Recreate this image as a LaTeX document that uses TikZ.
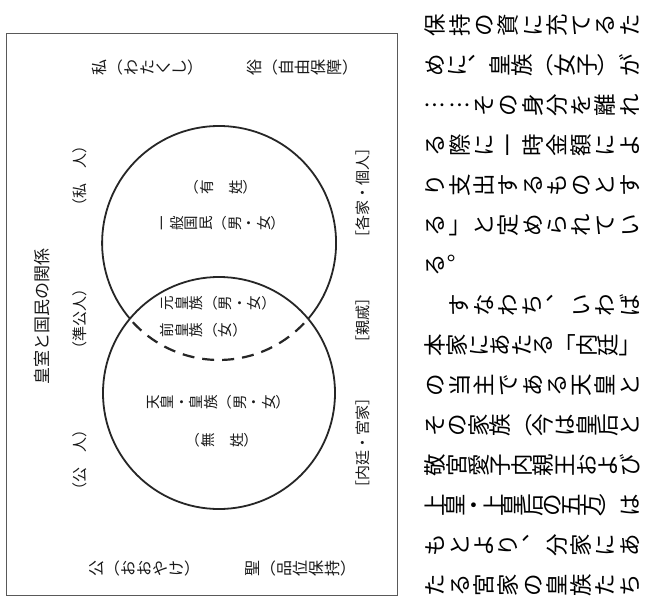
\documentclass[tikz,border=0pt]{standalone}
\usepackage{fontspec}
\setmainfont{Noto Sans CJK JP}
\makeatletter
\newif\iftt@first
\newcommand\tatestack[2][]{%
  \vbox #1{\offinterlineskip\tt@firsttrue
    \@tfor\tt@c:=#2\do{%
      \iftt@first\tt@firstfalse\else\vss\fi
      \hbox to 1em{\vrule height .88em depth .12em width 0pt\hss\smash{\tt@c}\hss}}%
    \kern0pt}}
\makeatother
\newcommand\fsz[1]{\fontsize{#1}{#1}\selectfont}
\tikzset{
  lbl/.style={inner sep=0pt, outer sep=0pt, text=black!90, rotate=90},
  dlab/.style={lbl, font=\fsz{14.5}},
  hlab/.style={lbl, font=\fsz{15}},
  elab/.style={lbl, font=\fsz{16}},
  body/.style={lbl, font=\fsz{22.5}, anchor=north, text=black},
  ring/.style={line width=1.8pt, black!85},
  dashring/.style={line width=2.2pt, black!85, dash pattern=on 12pt off 8pt, dash phase=14pt},
  frame/.style={line width=0.8pt, black!65}
}
\begin{document}
\begin{tikzpicture}[x=1pt,y=-1pt]
\useasboundingbox (0,0) rectangle (645,597);
\fill[white] (0,0) rectangle (645,597);
% frame
\draw[frame] (6,33) rectangle (397,595);
% circles
\coordinate (cu) at (219,243);
\coordinate (cl) at (219,393);
\coordinate (il) at (130,318.8);
\coordinate (ir) at (308,318.8);
\draw[ring] (cl) circle[radius=116];
\draw[ring] (il) arc[start angle=139.6, end angle=400.4, radius=117];
\draw[dashring] (ir) arc[start angle=40.4, end angle=139.6, radius=117];
% diagram labels
\node[lbl, font=\fsz{17}] (title) at (42,316) {皇室と国民の関係};
\node[hlab] (shijin) at (80,176) {（私　人）};
\node[hlab] (junko) at (80,319) {（準公人）};
\node[hlab] (kojin) at (80,460) {（公　人）};
\node[hlab] (kakuke) at (363,193) {［各家・個人］};
\node[hlab] (shinseki) at (363,320) {［親戚］};
\node[hlab] (naitei) at (363,443) {［内廷・宮家］};
\node[elab] (wata) at (147,67) {\tatestack{私︵わたくし︶}};
\node[elab] (zoku) at (302,67) {\tatestack{俗︵自由保障︶}};
\node[elab] (oya) at (144,568) {\tatestack{公︵おおやけ︶}};
\node[elab] (sei) at (300,568) {\tatestack{聖︵品位保持︶}};
\node[dlab] (yusei) at (221,187) {\tatestack{︵有　姓︶}};
\node[dlab] (ippan) at (220,223) {\tatestack{一般国民︵男・女︶}};
\node[dlab, anchor=north] (moto) at (160,303) {\tatestack{元皇族︵男・女︶}};
\node[dlab, anchor=north] (zen) at (160,330) {\tatestack{前皇族︵女︶}};
\node[dlab] (tenno) at (218,402) {\tatestack{天皇・皇族︵男・女︶}};
\node[dlab] (musei) at (222,440) {\tatestack{︵無　姓︶}};
% body text
\node[body] (r0) at (424,25) {\tatestack[to 217pt]{保持の資に充てるた}};
\node[body] (r1) at (424,65) {\tatestack[to 217pt]{めに︑皇族︵女子︶が}};
\node[body] (r2) at (424,105) {\tatestack[to 217pt]{︙︙その身分を離れ}};
\node[body] (r3) at (424,145) {\tatestack[to 217pt]{る際に一時金額によ}};
\node[body] (r4) at (424,185) {\tatestack[to 217pt]{り支出するものとす}};
\node[body] (r5) at (424,225) {\tatestack[to 217pt]{る﹂と定められてい}};
\node[body] (r6) at (424,265) {\tatestack{る︒}};
\node[body] (r7) at (448,305) {\tatestack[to 193pt]{すなわち︑いわば}};
\node[body] (r8) at (424,345) {\tatestack[to 217pt]{本家にあたる﹁内廷﹂}};
\node[body] (r9) at (424,385) {\tatestack[to 217pt]{の当主である天皇と}};
\node[body] (r10) at (424,425) {\tatestack[to 217pt]{その家族︵今は皇后と}};
\node[body] (r11) at (424,465) {\tatestack[to 217pt]{敬宮愛子内親王および}};
\node[body] (r12) at (424,505) {\tatestack[to 217pt]{上皇・上皇后の五方︶は}};
\node[body] (r13) at (424,545) {\tatestack[to 217pt]{もとより︑分家にあ}};
\node[body] (r14) at (424,585) {\tatestack[to 217pt]{たる宮家の皇族たち}};
\end{tikzpicture}
\end{document}
